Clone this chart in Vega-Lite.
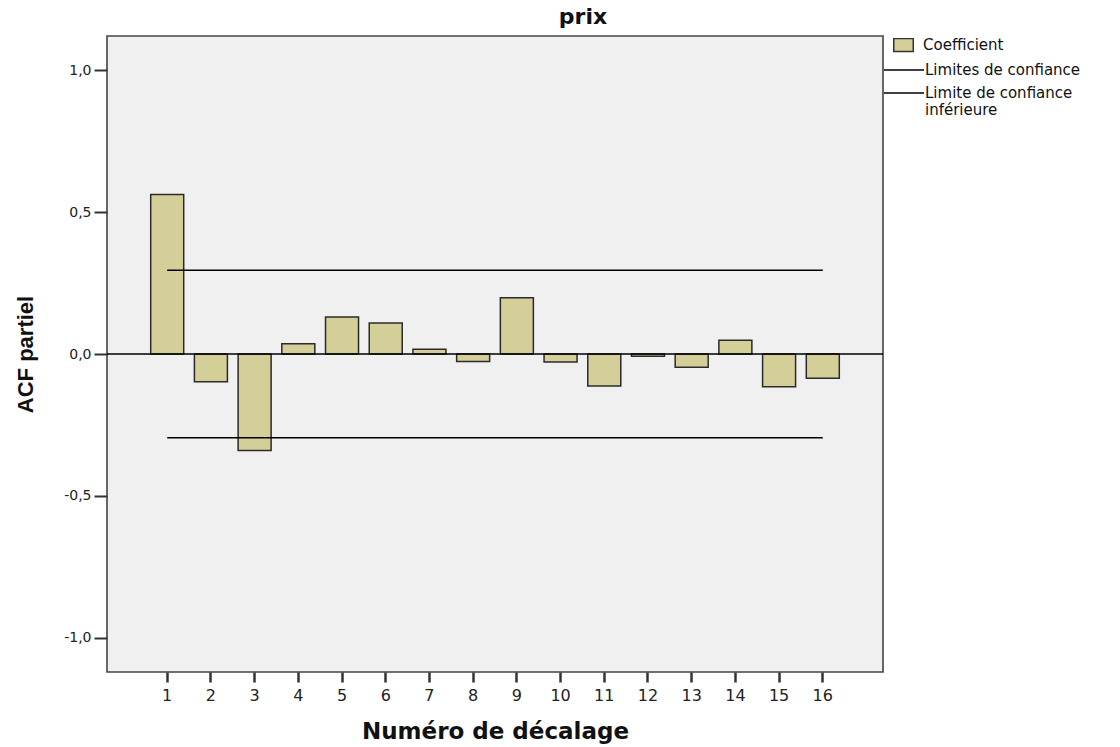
{
  "$schema": "https://vega.github.io/schema/vega-lite/v6.json",
  "autosize": {"type": "none"},
  "padding": {"left": 107, "top": 36, "right": 237, "bottom": 75},
  "width": 776,
  "height": 636,
  "background": "white",
  "title": {"text": "prix", "fontSize": 22, "fontWeight": "bold", "font": "DejaVu Sans", "color": "#111", "offset": 7, "anchor": "middle", "dx": 88},
  "config": {
    "view": {"fill": "#f0f0f0", "stroke": "#444", "strokeWidth": 1.6},
    "font": "DejaVu Sans",
    "axis": {"labelColor": "#222", "titleColor": "#111", "tickColor": "#333", "domain": false, "grid": false, "titleFontWeight": "bold"},
    "axisX": {"labelFont": "DejaVu Sans", "labelFontSize": 16, "titleFont": "DejaVu Sans", "titleFontSize": 23},
    "axisY": {"labelFont": "DejaVu Sans", "labelFontSize": 14, "titleFont": "Liberation Sans", "titleFontSize": 22},
    "legend": {"labelFont": "DejaVu Sans", "labelFontSize": 15, "labelColor": "#111", "padding": 0}
  },
  "datasets": {
    "pacf": [
      {"lag": 1, "coef": 0.562},
      {"lag": 2, "coef": -0.098},
      {"lag": 3, "coef": -0.34},
      {"lag": 4, "coef": 0.036},
      {"lag": 5, "coef": 0.13},
      {"lag": 6, "coef": 0.109},
      {"lag": 7, "coef": 0.017},
      {"lag": 8, "coef": -0.026},
      {"lag": 9, "coef": 0.198},
      {"lag": 10, "coef": -0.028},
      {"lag": 11, "coef": -0.113},
      {"lag": 12, "coef": -0.008},
      {"lag": 13, "coef": -0.047},
      {"lag": 14, "coef": 0.048},
      {"lag": 15, "coef": -0.115},
      {"lag": 16, "coef": -0.085}
    ],
    "limits": [
      {"series": "Limites de confiance", "start": 1, "end": 16, "value": 0.295},
      {"series": "Limite de confiance inférieure", "start": 1, "end": 16, "value": -0.295}
    ]
  },
  "layer": [
    {
      "data": {"name": "pacf"},
      "mark": {"type": "bar", "stroke": "#2a2a2a", "strokeWidth": 1.5},
      "encoding": {
        "x": {"field": "lag", "type": "ordinal", "scale": {"paddingInner": 0.245, "paddingOuter": 1.0},
              "axis": {"title": "Numéro de décalage", "labelAngle": 0, "tickSize": 10, "tickWidth": 2.5, "labelPadding": 5, "titleBaseline": "alphabetic", "titleY": 66}},
        "y": {"field": "coef", "type": "quantitative", "scale": {"domain": [-1.12, 1.12], "nice": false, "zero": false},
              "axis": {"title": "ACF partiel", "values": [-1, -0.5, 0, 0.5, 1], "format": ".1f", "labelExpr": "replace(replace(datum.label, '.', ','), '−', '-')", "tickSize": 13, "tickWidth": 2, "labelPadding": 3, "titleBaseline": "alphabetic", "titleX": -75}},
        "fill": {"datum": "Coefficient", "scale": {"range": ["#d4cf99"]},
                 "legend": {"title": null, "offset": 0, "padding": 2, "clipHeight": 14, "symbolType": "M-1.5,-1L1.5,-1L1.5,1L-1.5,1Z", "symbolSize": 169, "symbolOffset": 11, "symbolStrokeColor": "#333", "symbolStrokeWidth": 1.5, "labelOffset": 12}}
      }
    },
    {
      "data": {"values": [{"z": 0}]},
      "mark": {"type": "rule", "color": "#000", "strokeWidth": 1.5},
      "encoding": {"y": {"field": "z", "type": "quantitative"}}
    },
    {
      "data": {"name": "limits"},
      "mark": {"type": "rule", "strokeWidth": 1.5},
      "encoding": {
        "x": {"field": "start", "type": "ordinal"},
        "x2": {"field": "end"},
        "y": {"field": "value", "type": "quantitative"},
        "stroke": {"field": "series", "type": "nominal",
                   "scale": {"domain": ["Limites de confiance", "Limite de confiance inférieure"], "range": ["#000", "#000"]},
                   "legend": {"title": null, "offset": 0, "clipHeight": 14, "rowPadding": 8, "symbolType": "stroke", "symbolSize": 1600, "symbolStrokeWidth": 1.5, "labelOffset": 0, "labelLimit": 300,
                              "labelExpr": "datum.label == 'Limite de confiance inférieure' ? ['Limite de confiance', 'inférieure'] : datum.label"}}
      }
    }
  ]
}
